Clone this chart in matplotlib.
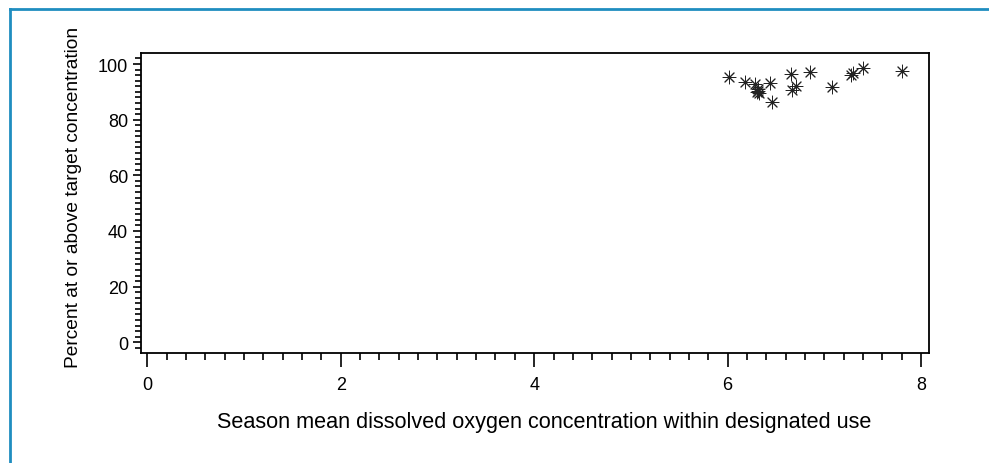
import matplotlib
matplotlib.use("Agg")
import matplotlib.pyplot as plt
from matplotlib.ticker import MultipleLocator
from matplotlib.lines import Line2D

plt.rcParams['font.family'] = ['Liberation Sans', 'DejaVu Sans']

# season mean DO vs percent at or above target
do_mean = [6.01, 6.18, 6.28, 6.31, 6.30, 6.32, 6.31, 6.44, 6.46,
           6.66, 6.71, 6.67, 6.85, 7.08, 7.28, 7.30, 7.40, 7.80]
pct_above = [95.2, 93.6, 92.8, 90.4, 90.0, 89.5, 91.0, 93.2, 86.5,
             96.4, 92.2, 90.8, 97.0, 91.6, 96.2, 96.8, 98.6, 97.6]

x_ticks = [0, 2, 4, 6, 8]
y_ticks = [0, 20, 40, 60, 80, 100]

fig = plt.figure(figsize=(9.89, 4.64), dpi=100)
ax = fig.add_axes([0.1423, 0.2364, 0.7974, 0.6472])

ax.scatter(do_mean, pct_above, marker=(8, 2, 0), s=85, c='#222222', linewidths=0.7)

ax.set_xlim(-0.068, 8.086)
ax.set_ylim(-3.95, 103.95)
ax.set_xticks(x_ticks)
ax.set_yticks(y_ticks)
ax.xaxis.set_minor_locator(MultipleLocator(0.2))
ax.yaxis.set_minor_locator(MultipleLocator(2))
ax.tick_params(axis='both', which='major', length=10, width=1.2, labelsize=13, color='black')
ax.tick_params(axis='both', which='minor', length=5, width=1.2)
ax.tick_params(axis='y', which='major', length=6, pad=3)
ax.tick_params(axis='y', which='minor', length=4)
ax.tick_params(axis='x', which='major', pad=6)
for s in ax.spines.values():
    s.set_linewidth(1.3)

ax.set_xlabel('Season mean dissolved oxygen concentration within designated use',
              fontsize=15.6)
ax.set_ylabel('Percent at or above target concentration', fontsize=13.8)
ax.xaxis.set_label_coords(0.511, -0.192)
ax.yaxis.set_label_coords(-0.074, 0.524)

# blue frame around the figure
fig.add_artist(Line2D([10 / 989, 1.0], [1 - 10 / 464, 1 - 10 / 464],
                      transform=fig.transFigure, color='#1f8dc0', lw=2))
fig.add_artist(Line2D([10 / 989, 10 / 989], [0, 1 - 10 / 464],
                      transform=fig.transFigure, color='#1f8dc0', lw=2))

fig.savefig('out.png', dpi=100)
